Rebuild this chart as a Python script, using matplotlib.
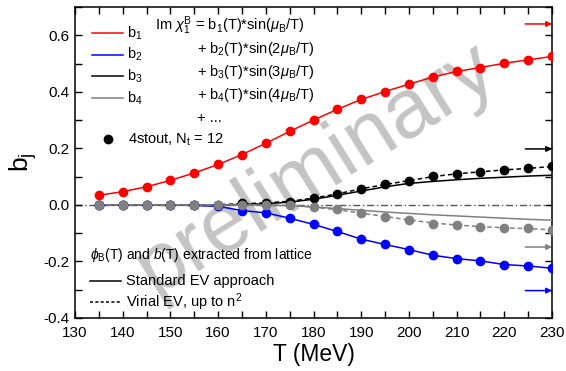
import numpy as np
import matplotlib
matplotlib.use('Agg')
import matplotlib.pyplot as plt
from matplotlib.ticker import MultipleLocator

plt.rcParams['font.family'] = ['Liberation Sans', 'DejaVu Sans']
plt.rcParams['mathtext.fontset'] = 'custom'
plt.rcParams['mathtext.rm'] = 'Liberation Sans'
plt.rcParams['mathtext.it'] = 'Liberation Sans:italic'
plt.rcParams['mathtext.bf'] = 'Liberation Sans:bold'

# ── data ────────────────────────────────────────────────────────────────────
T = [135, 140, 145, 150, 155, 160, 165, 170, 175, 180, 185, 190, 195,
     200, 205, 210, 215, 220, 225, 230]

# lattice points, 4stout Nt=12
b1_lat = [0.034, 0.047, 0.064, 0.087, 0.113, 0.143, 0.178, 0.218, 0.260, 0.300,
          0.338, 0.373, 0.401, 0.427, 0.452, 0.472, 0.486, 0.501, 0.513, 0.525]
b2_lat = [0.000, 0.000, 0.000, 0.000, -0.002, -0.005, -0.020, -0.028, -0.047, -0.069,
          -0.094, -0.121, -0.140, -0.158, -0.178, -0.190, -0.198, -0.211, -0.216, -0.224]
b3_lat = [0.000, 0.000, 0.000, 0.000, 0.000, 0.001, 0.005, 0.006, 0.012, 0.023,
          0.038, 0.058, 0.073, 0.085, 0.104, 0.111, 0.118, 0.125, 0.129, 0.136]
b4_lat = [0.000, 0.000, 0.000, 0.000, 0.000, 0.000, 0.000, 0.000, -0.001, -0.008,
          -0.016, -0.029, -0.042, -0.052, -0.067, -0.071, -0.079, -0.081, -0.082, -0.090]

# standard EV approach (solid)
b3_std = [0.000, 0.000, 0.000, 0.000, 0.000, 0.000, 0.001, 0.004, 0.010, 0.020,
          0.034, 0.049, 0.064, 0.076, 0.083, 0.089, 0.094, 0.098, 0.102, 0.105]
b4_std = [0.000, 0.000, 0.000, 0.000, 0.000, 0.000, 0.000, -0.001, -0.003, -0.007,
          -0.013, -0.019, -0.025, -0.030, -0.035, -0.039, -0.043, -0.047, -0.051, -0.054]

# virial EV up to n^2 (dashed)
b3_vir = [0.000, 0.000, 0.000, 0.000, 0.000, 0.001, 0.004, 0.007, 0.013, 0.024,
          0.039, 0.057, 0.072, 0.086, 0.100, 0.110, 0.117, 0.124, 0.129, 0.136]
b4_vir = [0.000, 0.000, 0.000, 0.000, 0.000, 0.000, 0.000, 0.000, -0.002, -0.008,
          -0.017, -0.029, -0.041, -0.053, -0.064, -0.071, -0.077, -0.081, -0.084, -0.088]

# Stefan-Boltzmann limits (arrows at right edge)
sb_names = ['b1', 'b3', 'b4', 'b2']
sb_vals = [0.640, 0.198, -0.149, -0.303]

colors = {'b1': '#ff0000', 'b2': '#0000ff', 'b3': '#000000', 'b4': '#808080'}

# ── figure ──────────────────────────────────────────────────────────────────
fig = plt.figure(figsize=(5.66, 3.71), dpi=100)
L, R, TOP, BOT = 75, 552, 7, 318   # axes box in image pixels
ax = fig.add_axes([L / 566, 1 - BOT / 371, (R - L) / 566, (BOT - TOP) / 371])

def axf(px, py):
    return (px - L) / (R - L), (BOT - py) / (BOT - TOP)

# watermark
ax.text(0.505, 0.48, 'preliminary', transform=ax.transAxes, fontsize=60,
        color='#c4c4c4', rotation=32, ha='center', va='center', zorder=0)

ax.axhline(0, color='#555555', lw=1.0, ls=(0, (5, 2, 1, 2)), zorder=1)

mk = dict(marker='o', ms=6, ls='none', zorder=4)
ax.plot(T, b1_lat, color=colors['b1'], lw=1.1, zorder=3)
ax.plot(T, b2_lat, color=colors['b2'], lw=1.1, zorder=3)
ax.plot(T, b3_std, color=colors['b3'], lw=1.1, zorder=3)
ax.plot(T, b3_vir, color=colors['b3'], lw=1.1, ls=(0, (3, 2)), zorder=3)
ax.plot(T, b4_std, color=colors['b4'], lw=1.1, zorder=3)
ax.plot(T, b4_vir, color=colors['b4'], lw=1.1, ls=(0, (3, 2)), zorder=3)

ax.plot(T, b2_lat, color=colors['b2'], **mk)
ax.plot(T, b1_lat, color=colors['b1'], **mk)
ax.plot(T, b3_lat, color=colors['b3'], **mk)
ax.plot(T, b4_lat, color=colors['b4'], **mk)

for n, v in zip(sb_names, sb_vals):
    ax.annotate('', xy=(230, v), xytext=(224.4, v),
                arrowprops=dict(arrowstyle='-|>', color=colors[n], lw=1.1,
                                mutation_scale=8, shrinkA=0, shrinkB=0))

ax.set_xlim(130, 230)
ax.set_ylim(-0.4, 0.7)
ax.xaxis.set_major_locator(MultipleLocator(10))
ax.xaxis.set_minor_locator(MultipleLocator(5))
ax.yaxis.set_major_locator(MultipleLocator(0.2))
ax.yaxis.set_minor_locator(MultipleLocator(0.1))
ax.set_yticks([-0.4, -0.2, 0.0, 0.2, 0.4, 0.6])
ax.yaxis.set_major_formatter(matplotlib.ticker.FormatStrFormatter('%.1f'))
ax.tick_params(which='both', direction='in', top=True, right=True, width=1)
ax.tick_params(which='major', length=5, labelsize=11, pad=4)
ax.tick_params(axis='x', which='major', pad=6)
ax.tick_params(which='minor', length=5)
for s in ax.spines.values():
    s.set_linewidth(1.1)

ax.set_xlabel('T (MeV)', fontsize=16.5, labelpad=2)
ax.set_ylabel(r'b$_\mathregular{j}$', fontsize=19, labelpad=3)

# legend: b1..b4 lines
for i, n in enumerate(['b1', 'b2', 'b3', 'b4']):
    yy = 33 + i * 21.7
    x0, y0 = axf(92, yy)
    x1, _ = axf(123, yy)
    ax.plot([x0, x1], [y0, y0], color=colors[n], lw=1.1, transform=ax.transAxes)
    tx, ty = axf(127, yy)
    ax.text(tx, ty, r'b$_\mathregular{%s}$' % n[1], transform=ax.transAxes,
            fontsize=10.5, va='center', ha='left')

formula = [r'Im $\chi_\mathregular{1}^\mathregular{B}$ = b$_\mathregular{1}$(T)*sin($\mu_\mathregular{B}$/T)',
           r'+ b$_\mathregular{2}$(T)*sin(2$\mu_\mathregular{B}$/T)',
           r'+ b$_\mathregular{3}$(T)*sin(3$\mu_\mathregular{B}$/T)',
           r'+ b$_\mathregular{4}$(T)*sin(4$\mu_\mathregular{B}$/T)',
           '+ ...']
for i, s in enumerate(formula):
    tx, ty = axf(155 if i == 0 else 197, 26 + i * 23)
    ax.text(tx, ty, s, transform=ax.transAxes, fontsize=10.5, va='center', ha='left')

mx, my = axf(108, 139)
ax.plot([mx], [my], 'o', color='black', ms=6, transform=ax.transAxes)
tx, ty = axf(128, 140)
ax.text(tx, ty, r'4stout, N$_\mathregular{t}$ = 12', transform=ax.transAxes,
        fontsize=10.5, va='center', ha='left')

tx, ty = axf(90, 255)
ax.text(tx, ty, r'$\phi_\mathregular{B}$(T) and $b$(T) extracted from lattice',
        transform=ax.transAxes, fontsize=10, va='center', ha='left')
for yy, ls, lab in [(281, '-', 'Standard EV approach'),
                    (302, (0, (2, 1.5)), r'Virial EV, up to n$^\mathregular{2}$')]:
    x0, y0 = axf(90, yy)
    x1, _ = axf(121, yy)
    ax.plot([x0, x1], [y0, y0], color='black', lw=1.1, ls=ls, transform=ax.transAxes)
    tx, ty = axf(126, yy)
    ax.text(tx, ty, lab, transform=ax.transAxes, fontsize=10.5, va='center', ha='left')

fig.savefig('out.png', dpi=100)
